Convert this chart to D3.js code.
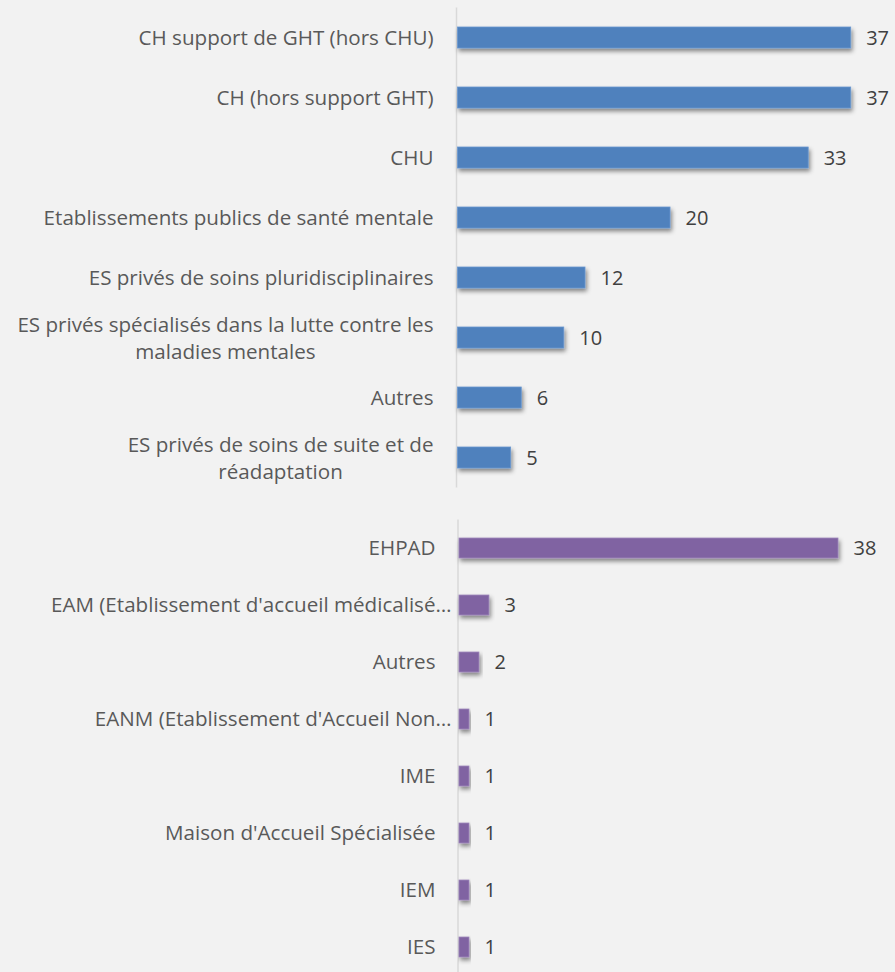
<!DOCTYPE html>
<html><head><meta charset="utf-8">
<script src="https://cdn.jsdelivr.net/npm/d3@7"></script>
<style>
html,body{margin:0;padding:0;background:#f2f2f2;}
svg{display:block;}
</style></head>
<body>
<script>
const topCategories = [
  ["CH support de GHT (hors CHU)"],
  ["CH (hors support GHT)"],
  ["CHU"],
  ["Etablissements publics de santé mentale"],
  ["ES privés de soins pluridisciplinaires"],
  ["ES privés spécialisés dans la lutte contre les", "maladies mentales"],
  ["Autres"],
  ["ES privés de soins de suite et de", "réadaptation"]
];
const topValues = [37, 37, 33, 20, 12, 10, 6, 5];

const bottomCategories = [
  ["EHPAD"],
  ["EAM (Etablissement d'accueil médicalisé…"],
  ["Autres"],
  ["EANM (Etablissement d'Accueil Non…"],
  ["IME"],
  ["Maison d'Accueil Spécialisée"],
  ["IEM"],
  ["IES"]
];
const bottomValues = [38, 3, 2, 1, 1, 1, 1, 1];
const bottomTruncated = [false, true, false, true, false, false, false, false];

const W = 895, H = 972;
const svg = d3.select("body").append("svg").attr("width", W).attr("height", H)
  .style("font-family", "'Open Sans', 'Noto Sans', sans-serif");

svg.append("rect").attr("width", W).attr("height", H).attr("fill", "#f2f2f2");

const defs = svg.append("defs");
const f = defs.append("filter").attr("id", "shadow")
  .attr("x", "-10%").attr("y", "-50%").attr("width", "130%").attr("height", "250%");
f.append("feDropShadow").attr("dx", 1.5).attr("dy", 3).attr("stdDeviation", 2)
  .attr("flood-color", "#000").attr("flood-opacity", 0.45);

const FS = 20.6;
const VFS = 20;

function panel(cats, vals, opts) {
  const y = d3.scaleBand().domain(d3.range(cats.length))
    .range([opts.y0, opts.y1]).paddingInner(opts.pad).paddingOuter(opts.pad / 2);
  const x = d3.scaleLinear().domain([0, opts.xmax]).range([opts.x0, opts.x1]);
  const g = svg.append("g");

  g.append("line")
    .attr("x1", opts.axisX).attr("x2", opts.axisX)
    .attr("y1", opts.y0).attr("y2", opts.y1)
    .attr("stroke", "#d9d9d9").attr("stroke-width", 1.5);

  g.selectAll("rect.bar").data(vals).join("rect").attr("class", "bar")
    .attr("x", x(0)).attr("y", (d, i) => y(i))
    .attr("width", d => x(d) - x(0)).attr("height", y.bandwidth())
    .attr("fill", opts.color)
    .attr("stroke", opts.stroke).attr("stroke-width", 0.8)
    .attr("filter", "url(#shadow)");

  g.selectAll("text.val").data(vals).join("text").attr("class", "val")
    .attr("x", d => x(d) + 15.5).attr("y", (d, i) => y(i) + y.bandwidth() / 2)
    .attr("dy", "0.36em")
    .attr("font-size", VFS).attr("fill", "#404040")
    .text(d => d);

  cats.forEach((lines, i) => {
    const cy = y(i) + y.bandwidth() / 2;
    const trunc = opts.trunc && opts.trunc[i];
    if (lines.length === 1) {
      g.append("text")
        .attr("x", trunc ? opts.truncX : opts.labelX).attr("y", cy + 7)
        .attr("text-anchor", "end").attr("font-size", FS).attr("fill", "#595959")
        .text(lines[0]);
    } else {
      const tmp = g.append("text").attr("font-size", FS).attr("visibility", "hidden");
      const widths = lines.map(l => { tmp.text(l); return tmp.node().getComputedTextLength(); });
      tmp.remove();
      const bw = d3.max(widths);
      const center = opts.labelX - bw / 2;
      lines.forEach((l, j) => {
        g.append("text")
          .attr("x", center).attr("y", cy - 6 + j * 27.5)
          .attr("text-anchor", "middle").attr("font-size", FS).attr("fill", "#595959")
          .text(l);
      });
    }
  });
}

panel(topCategories, topValues, {
  y0: 7.5, y1: 487.5, pad: 0.65, xmax: 37, x0: 457.5, x1: 850.7,
  axisX: 456.5, labelX: 433.5, color: "#4f81bd", stroke: "#6a97cf"
});
panel(bottomCategories, bottomValues, {
  y0: 519.5, y1: 975.5, pad: 0.65, xmax: 38, x0: 459, x1: 838,
  axisX: 458, labelX: 435.5, truncX: 451.5, trunc: bottomTruncated,
  color: "#8064a2", stroke: "#9a82b8"
});
</script>
</body></html>
